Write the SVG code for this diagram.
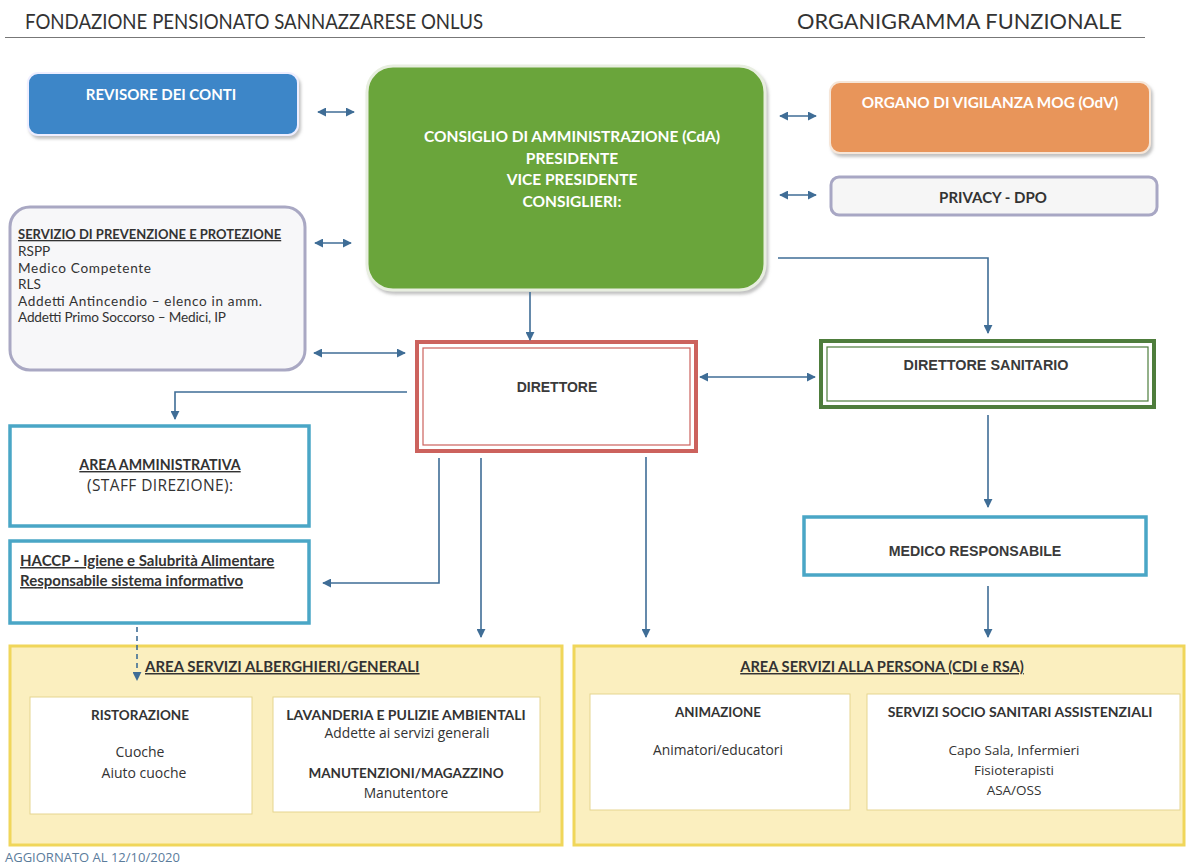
<svg xmlns="http://www.w3.org/2000/svg" width="1191" height="867" viewBox="0 0 1191 867">
<defs>
<marker id="ah" viewBox="0 0 10 10" refX="9" refY="5" markerWidth="9" markerHeight="9" markerUnits="userSpaceOnUse" orient="auto-start-reverse"><path d="M0,0 L10,5 L0,10 z" fill="#3f6d96"/></marker>
<filter id="sh" x="-5%" y="-5%" width="115%" height="120%"><feDropShadow dx="2" dy="3" stdDeviation="1.5" flood-color="#999" flood-opacity="0.6"/></filter>
</defs>
<style>
text{font-family:"Open Sans",Lato,"Liberation Sans",sans-serif;fill:#333}
.b{font-family:Lato,"Open Sans","Liberation Sans",sans-serif;font-weight:bold}
.l{font-family:Lato,"Open Sans","Liberation Sans",sans-serif}
text.w{fill:#fff}
.c{text-anchor:middle}
.u{text-decoration:underline}
text.a{font-family:"Liberation Sans",Arial,sans-serif;font-weight:bold;fill:#3a3a3a}
.con{stroke:#3f6d96;stroke-width:1.6;fill:none}
.teal{fill:#fff;stroke:#4aa6c6;stroke-width:3.5}
.inner{fill:#fff;stroke:#e6d590;stroke-width:1}
.area{fill:#fbefbf;stroke:#f0d65a;stroke-width:3}
</style>
<rect width="1191" height="867" fill="#fff"/>
<g id="header">
<text x="25" y="29" font-size="20.5" fill="#444" textLength="458" lengthAdjust="spacingAndGlyphs" style="font-family:Lato,sans-serif">FONDAZIONE PENSIONATO SANNAZZARESE ONLUS</text>
<text x="797" y="29" font-size="20.5" fill="#444" textLength="325" lengthAdjust="spacingAndGlyphs" style="font-family:Lato,sans-serif">ORGANIGRAMMA FUNZIONALE</text>
<line x1="5" y1="37.5" x2="1145" y2="37.5" stroke="#777" stroke-width="1.2"/>
</g>
<g id="revisore">
<rect x="28" y="73" width="270" height="62" rx="10" fill="#3c86c8" stroke="#eef" stroke-width="2" filter="url(#sh)"/>
<text x="161" y="100" font-size="15" class="b w c">REVISORE DEI CONTI</text>
</g>
<g id="cda">
<rect x="367" y="66" width="398" height="224" rx="26" fill="#6ba53b" stroke="#e8eee0" stroke-width="3" filter="url(#sh)"/>
<text x="572" y="142" font-size="15.5" class="b w c">CONSIGLIO DI AMMINISTRAZIONE (CdA)</text>
<text x="572" y="164" font-size="15.5" class="b w c">PRESIDENTE</text>
<text x="572" y="185" font-size="15.5" class="b w c">VICE PRESIDENTE</text>
<text x="572" y="207" font-size="15.5" class="b w c">CONSIGLIERI:</text>
</g>
<g id="odv">
<rect x="830" y="82" width="320" height="71" rx="10" fill="#e8955a" stroke="#f6e6d8" stroke-width="2" filter="url(#sh)"/>
<text x="990" y="108" font-size="15.3" class="b w c">ORGANO DI VIGILANZA MOG (OdV)</text>
</g>
<g id="privacy">
<rect x="831" y="177" width="326" height="38" rx="8" fill="#f6f6f6" stroke="#a8a7c4" stroke-width="3"/>
<text x="993" y="203" font-size="15" class="b c">PRIVACY - DPO</text>
</g>
<g id="spp">
<rect x="10" y="207" width="295" height="163" rx="20" fill="#f7f7f9" stroke="#a9a8c3" stroke-width="3"/>
<text x="18" y="239" font-size="13" class="b u">SERVIZIO DI PREVENZIONE E PROTEZIONE</text>
<text x="18" y="256" font-size="13.6" class="l">RSPP</text>
<text x="18" y="272.5" font-size="13.6" class="l" textLength="133">Medico Competente</text>
<text x="18" y="289" font-size="13.6" class="l">RLS</text>
<text x="18" y="305.5" font-size="13.6" class="l" textLength="244">Addetti Antincendio – elenco in amm.</text>
<text x="18" y="322" font-size="13.6" class="l" textLength="208">Addetti Primo Soccorso – Medici, IP</text>
</g>
<g id="direttore">
<rect x="417" y="342" width="279" height="109" fill="#fff" stroke="#cc625d" stroke-width="4"/>
<rect x="423" y="348" width="267" height="97" fill="none" stroke="#cc625d" stroke-width="1.2"/>
<text x="557" y="392" font-size="14" class="a c">DIRETTORE</text>
</g>
<g id="dirsan">
<rect x="821" y="341" width="333" height="66" fill="#fff" stroke="#4e7d3c" stroke-width="4"/>
<rect x="827" y="347" width="321" height="54" fill="none" stroke="#4e7d3c" stroke-width="1.2"/>
<text x="986" y="370" font-size="14.4" class="a c">DIRETTORE SANITARIO</text>
</g>
<g id="medico">
<rect x="804" y="517" width="342" height="58" class="teal"/>
<text x="975" y="556" font-size="14.2" class="a c">MEDICO RESPONSABILE</text>
</g>
<g id="amministrativa">
<rect x="10" y="426" width="299" height="100" class="teal"/>
<text x="160" y="470" font-size="14.2" class="b u c">AREA AMMINISTRATIVA</text>
<text x="160" y="491" font-size="15.5" class="c" textLength="146">(STAFF DIREZIONE):</text>
</g>
<g id="haccp">
<rect x="10" y="541" width="299" height="82" class="teal"/>
<text x="20" y="566" font-size="15" class="b u">HACCP  - Igiene e Salubrità Alimentare</text>
<text x="20" y="586" font-size="15" class="b u">Responsabile sistema informativo</text>
</g>
<g id="area-alberghieri">
<rect x="10" y="646" width="552" height="199" class="area"/>
<text x="145" y="672" font-size="15" class="b u">AREA SERVIZI ALBERGHIERI/GENERALI</text>
</g>
<g id="ristorazione">
<rect x="30" y="697" width="222" height="117" class="inner"/>
<text x="140" y="720" font-size="13.5" class="b c">RISTORAZIONE</text>
<text x="140" y="757" font-size="14" class="c">Cuoche</text>
<text x="144" y="778" font-size="14" class="c">Aiuto cuoche</text>
</g>
<g id="lavanderia">
<rect x="273" y="697" width="267" height="115" class="inner"/>
<text x="406" y="720" font-size="14" class="b c">LAVANDERIA E PULIZIE AMBIENTALI</text>
<text x="407" y="738" font-size="13.8" class="c">Addette ai servizi generali</text>
<text x="406" y="778" font-size="13.5" class="b c">MANUTENZIONI/MAGAZZINO</text>
<text x="406" y="798" font-size="13.8" class="c">Manutentore</text>
</g>
<g id="area-persona">
<rect x="574" y="646" width="610" height="199" class="area"/>
<text x="882" y="672" font-size="14.7" class="b u c">AREA SERVIZI ALLA PERSONA (CDI e RSA)</text>
</g>
<g id="animazione">
<rect x="590" y="694" width="260" height="116" class="inner"/>
<text x="718" y="717" font-size="13.3" class="b c">ANIMAZIONE</text>
<text x="718" y="755" font-size="13.8" class="c">Animatori/educatori</text>
</g>
<g id="sociosanitari">
<rect x="867" y="694" width="313" height="116" class="inner"/>
<text x="1020" y="717" font-size="14" class="b c">SERVIZI SOCIO SANITARI ASSISTENZIALI</text>
<text x="1014" y="755" font-size="13.5" class="c">Capo Sala, Infermieri</text>
<text x="1014" y="775" font-size="13.5" class="c">Fisioterapisti</text>
<text x="1014" y="795" font-size="13.5" class="c">ASA/OSS</text>
</g>
<g id="footer">
<text x="5" y="862" font-size="13" style="fill:#5b7c9c">AGGIORNATO AL 12/10/2020</text>
</g>
<g id="connectors">
<line class="con" x1="318" y1="112" x2="354" y2="112" marker-start="url(#ah)" marker-end="url(#ah)"/>
<line class="con" x1="315" y1="243" x2="351" y2="243" marker-start="url(#ah)" marker-end="url(#ah)"/>
<line class="con" x1="780" y1="116" x2="816" y2="116" marker-start="url(#ah)" marker-end="url(#ah)"/>
<line class="con" x1="780" y1="195" x2="816" y2="195" marker-start="url(#ah)" marker-end="url(#ah)"/>
<line class="con" x1="314" y1="353" x2="405" y2="353" marker-start="url(#ah)" marker-end="url(#ah)"/>
<line class="con" x1="700" y1="377" x2="815" y2="377" marker-start="url(#ah)" marker-end="url(#ah)"/>
<line class="con" x1="530" y1="292" x2="530" y2="340" marker-end="url(#ah)"/>
<polyline class="con" points="778,258 988,258 988,333" marker-end="url(#ah)"/>
<polyline class="con" points="407,392 175,392 175,419" marker-end="url(#ah)"/>
<polyline class="con" points="439,458 439,583 323,583" marker-end="url(#ah)"/>
<line class="con" x1="481" y1="458" x2="481" y2="637" marker-end="url(#ah)"/>
<line class="con" x1="646" y1="457" x2="646" y2="637" marker-end="url(#ah)"/>
<line class="con" x1="988" y1="415" x2="988" y2="507" marker-end="url(#ah)"/>
<line class="con" x1="988" y1="586" x2="988" y2="637" marker-end="url(#ah)"/>
<line x1="137" y1="627" x2="137" y2="680" stroke="#3f6d96" stroke-width="1.6" stroke-dasharray="5,4" marker-end="url(#ah)"/>
</g>
</svg>
